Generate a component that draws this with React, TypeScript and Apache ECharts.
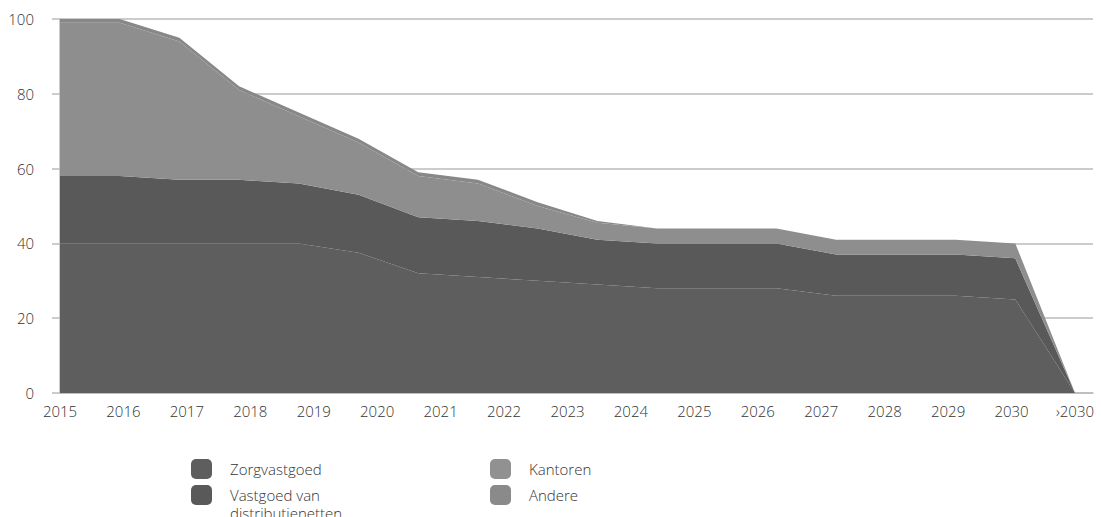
import React, { useEffect, useRef } from "react";
import * as echarts from "echarts";

const tickLabels = ["2015","2016","2017","2018","2019","2020","2021","2022","2023","2024","2025","2026","2027","2028","2029","2030","›2030"];
const pointIndex = ["0","1","2","3","4","5","6","7","8","9","10","11","12","13","14","15","16","17"];
const seriesNames = ["Zorgvastgoed", "Vastgoed van distributienetten", "Kantoren", "Andere"];
const zorg = [40, 40, 40, 40, 40, 37.5, 32, 31, 30, 29, 28, 28, 28, 26, 26, 26, 25, 0];
const distributie = [18, 18, 17, 17, 16, 15.5, 15, 15, 14, 12, 12, 12, 12, 11, 11, 11, 11, 0];
const kantoren = [41, 41, 37, 24, 18, 14, 11, 10, 6, 4.5, 4, 4, 4, 4, 4, 4, 4, 0];
const andere = [1, 1, 1, 1, 1, 1, 1, 1, 1, 0.5, 0, 0, 0, 0, 0, 0, 0, 0];
const yTicks = [0, 20, 40, 60, 80, 100];

const areaColors = ["#5e5e5e", "#595959", "#8e8e8e", "#888888"];
const legendColors = ["#5e5e5e", "#595959", "#919191", "#8a8a8a"];
const FONT = "'Open Sans'";
const TEXT = "#333333";

export default function App() {
  const ref = useRef<HTMLDivElement>(null);
  useEffect(() => {
    if (!ref.current) return;
    const chart = echarts.init(ref.current, null, { renderer: "svg" });
    const values = [zorg, distributie, kantoren, andere];
    const legendPos = [
      { x: 191, y: 459, tx: 230 },
      { x: 191, y: 485, tx: 230 },
      { x: 490, y: 459, tx: 529 },
      { x: 490, y: 485, tx: 529 },
    ];
    const legendText = ["Zorgvastgoed", "Vastgoed van\ndistributienetten", "Kantoren", "Andere"];
    const graphic: any[] = [];
    seriesNames.forEach((n, i) => {
      const p = legendPos[i];
      graphic.push({
        type: "rect",
        shape: { x: p.x, y: p.y, width: 21, height: 20, r: 5 },
        style: { fill: legendColors[i] },
      });
      graphic.push({
        type: "text",
        x: p.tx,
        y: p.y + 10 - 9,
        style: {
          text: legendText[i],
          fill: TEXT,
          font: `300 15px ${FONT}`,
          lineHeight: 18,
          verticalAlign: "top",
        },
      });
    });
    chart.setOption({
      animation: false,
      textStyle: { fontFamily: FONT },
      grid: [
        { left: 60, right: 8, top: 19, height: 374 },
        { left: 60, right: 26, top: 19, height: 374 },
      ],
      xAxis: [
        {
          gridIndex: 0,
          type: "value",
          min: 0,
          max: 1,
          axisLine: { show: true, lineStyle: { color: "#bbbbbb", width: 1.5 } },
          axisTick: { show: false },
          axisLabel: { show: false },
          splitLine: { show: false },
        },
        {
          gridIndex: 1,
          type: "category",
          data: tickLabels,
          boundaryGap: false,
          axisLine: { show: false },
          axisTick: { show: false },
          axisLabel: {
            interval: 0,
            margin: 10,
            color: TEXT,
            fontSize: 15,
            fontWeight: 300,
            fontFamily: FONT,
          },
          splitLine: { show: false },
        },
        {
          gridIndex: 1,
          type: "category",
          data: pointIndex,
          boundaryGap: false,
          show: false,
        },
      ],
      yAxis: [
        {
          gridIndex: 0,
          type: "value",
          min: 0,
          max: 100,
          interval: 20,
          axisLine: { show: true, lineStyle: { color: "#bbbbbb", width: 1.5 } },
          axisTick: { show: true, length: 8, lineStyle: { color: "#bbbbbb", width: 1.5 } },
          axisLabel: {
            margin: 26,
            color: TEXT,
            fontSize: 15,
            fontWeight: 300,
            fontFamily: FONT,
            formatter: (v: number) => (yTicks.includes(v) ? String(v) : ""),
          },
          splitLine: { show: true, lineStyle: { color: "#bbbbbb", width: 1.5 } },
        },
        {
          gridIndex: 1,
          type: "value",
          min: 0,
          max: 100,
          show: false,
        },
      ],
      series: seriesNames.map((name, i) => ({
        name,
        type: "line",
        stack: "total",
        xAxisIndex: 2,
        yAxisIndex: 1,
        data: values[i],
        showSymbol: false,
        symbol: "none",
        lineStyle: { width: 0, color: areaColors[i] },
        itemStyle: { color: areaColors[i] },
        areaStyle: { color: areaColors[i], opacity: 1 },
        z: 2 + i,
      })),
      graphic,
    });
    return () => chart.dispose();
  }, []);
  return (
    <div
      ref={ref}
      style={{ position: "fixed", left: 0, top: 0, width: 1101, height: 517, background: "#ffffff" }}
    />
  );
}
